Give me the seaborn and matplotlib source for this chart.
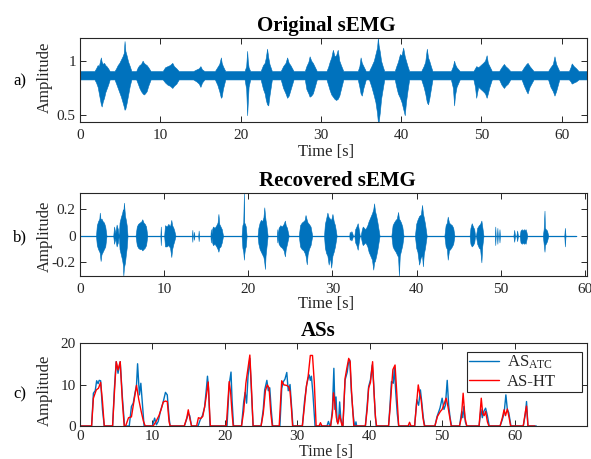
import matplotlib
matplotlib.use("Agg")
import matplotlib.pyplot as plt
import numpy as np
import pandas as pd
import seaborn as sns

# ---------------------------------------------------------------
# (a) Original sEMG: envelope of each burst (time [s], upper, lower)
# ---------------------------------------------------------------
orig_t = [
    [0.0],
    [1.8, 2.0, 2.2, 2.35, 2.5, 2.6, 2.7, 2.85, 3.0, 3.15, 3.3, 3.5, 3.7],
    [4.3, 4.5, 4.7, 4.9, 5.1, 5.3, 5.45, 5.55, 5.65, 5.8, 6.0, 6.2, 6.4],
    [7.0, 7.2, 7.4, 7.6, 7.8, 7.95, 8.1, 8.3, 8.5, 8.8],
    [10.3, 10.6, 10.9, 11.2, 11.5, 11.7, 12.0, 12.3],
    [14.1, 14.5, 14.8, 15.0, 15.2, 15.5],
    [16.8, 17.1, 17.35, 17.55, 17.65, 17.8, 18.1],
    [20.5, 20.7, 20.82, 20.9, 21.0, 21.2],
    [22.5, 22.8, 23.0, 23.15, 23.3, 23.45, 23.6, 23.9],
    [25.0, 25.3, 25.6, 25.8, 26.0, 26.2, 26.6],
    [28.0, 28.2, 28.45, 28.6, 28.8, 29.0, 29.2, 29.5],
    [30.7, 30.9, 31.1, 31.3, 31.5, 31.7, 31.9, 32.1, 32.3, 32.5, 32.8],
    [34.6, 34.8, 34.95, 35.1, 35.3, 35.6],
    [36.0, 36.3, 36.6, 36.8, 37.0, 37.1, 37.2, 37.35, 37.5, 37.7, 37.9],
    [39.2, 39.4, 39.6, 39.85, 40.05, 40.25, 40.45, 40.6, 40.8, 41.0],
    [42.5, 42.8, 43.0, 43.2, 43.35, 43.5, 43.7, 43.9],
    [46.2, 46.45, 46.6, 46.7, 46.9, 47.3],
    [49.0, 49.2, 49.35, 49.6, 49.9, 50.2, 50.45, 50.65, 50.8, 51.0, 51.3],
    [52.2, 52.5, 52.8, 53.0, 53.3, 53.6],
    [55.0, 55.3, 55.6, 55.75, 56.0, 56.5],
    [58.3, 58.6, 58.9, 59.1, 59.3, 59.7],
    [60.9, 61.1, 61.25, 61.5, 61.8, 62.1],
    [63.1],
]
orig_hi = [
    [0.905],
    [.905, .93, .96, .95, 1.00, 1.03, .99, .97, .98, .96, .95, .93, .905],
    [.905, .93, .96, .98, 1.01, 1.04, 1.07, 1.18, 1.09, 1.05, .99, .95, .905],
    [.905, .94, .96, .97, 1.00, .98, .97, .96, .94, .905],
    [.905, .94, .95, .96, .98, .95, .93, .905],
    [.905, .92, .93, .95, .92, .905],
    [.905, .94, .97, 1.03, .98, .95, .905],
    [.905, .95, 1.09, 1.0, .94, .905],
    [.905, .96, .98, 1.03, 1.11, 1.03, .97, .905],
    [.905, .95, .98, 1.03, .98, .96, .905],
    [.905, .95, .99, 1.04, 1.0, .98, .95, .905],
    [.905, .94, .99, 1.03, 1.10, 1.04, 1.05, 1.10, 1.0, .96, .905],
    [.905, .95, 1.03, .98, .95, .905],
    [.905, .95, 1.0, 1.06, 1.12, 1.21, 1.14, 1.08, 1.0, .95, .905],
    [.905, .95, .99, 1.06, 1.05, 1.12, 1.04, 1.0, .95, .905],
    [.905, .95, .99, 1.11, 1.03, 1.0, .95, .905],
    [.905, .95, 1.0, .97, .94, .905],
    [.905, .93, .95, .94, .96, .98, 1.0, 1.05, .98, .95, .905],
    [.905, .94, .97, .95, .93, .905],
    [.905, .94, .97, .98, .95, .905],
    [.905, .94, .97, 1.04, .97, .905],
    [.905, .94, .975, .95, .93, .905],
    [0.905],
]
orig_lo = [
    [0.828],
    [.828, .80, .76, .70, .64, .60, .58, .63, .66, .71, .74, .78, .828],
    [.828, .79, .75, .71, .67, .62, .58, .55, .56, .61, .69, .77, .828],
    [.828, .79, .75, .72, .70, .69, .70, .72, .77, .828],
    [.828, .80, .78, .77, .75, .77, .79, .828],
    [.828, .81, .79, .76, .80, .828],
    [.828, .78, .72, .66, .67, .74, .828],
    [.828, .74, .50, .62, .76, .828],
    [.828, .74, .70, .64, .60, .59, .68, .828],
    [.828, .75, .70, .66, .68, .73, .828],
    [.828, .74, .70, .67, .68, .70, .75, .828],
    [.828, .78, .73, .69, .67, .65, .64, .65, .68, .74, .828],
    [.828, .76, .70, .68, .75, .828],
    [.828, .76, .68, .62, .52, .44, .44, .53, .65, .74, .828],
    [.828, .76, .70, .66, .62, .56, .50, .62, .73, .828],
    [.828, .76, .70, .62, .60, .65, .74, .828],
    [.828, .75, .59, .68, .76, .828],
    [.828, .76, .66, .76, .74, .72, .70, .66, .70, .76, .828],
    [.828, .78, .75, .77, .79, .828],
    [.828, .77, .72, .70, .76, .828],
    [.828, .76, .72, .68, .72, .828],
    [.828, .81, .79, .80, .81, .828],
    [0.828],
]

# ---------------------------------------------------------------
# (b) Recovered sEMG: envelope of each burst (time [s], upper, lower)
# ---------------------------------------------------------------
recov_t = [
    [0.0],
    [1.9, 2.0, 2.15, 2.3, 2.35, 2.45, 2.55, 2.7, 2.85, 3.0, 3.15],
    [3.95, 4.05, 4.2, 4.35, 4.5, 4.6],
    [4.62, 4.7, 4.85, 5.0, 5.1, 5.15, 5.22, 5.35, 5.45, 5.55, 5.65],
    [6.6, 6.75, 6.9, 7.1, 7.3, 7.4, 7.55, 7.7, 7.85, 8.0],
    [9.55, 9.6, 9.65],
    [10.0, 10.1, 10.3, 10.5, 10.7, 10.85, 10.95, 11.1, 11.2, 11.35],
    [13.3, 13.35, 13.4, 13.5, 13.55, 13.6, 14.05, 14.1, 14.15],
    [15.5, 15.55, 15.6, 15.7, 15.8, 16.0, 16.2, 16.35, 16.45, 16.55, 16.7, 16.85, 17.0],
    [19.2, 19.3, 19.4, 19.48, 19.52, 19.6, 19.7, 19.8],
    [21.1, 21.2, 21.35, 21.5, 21.65, 21.8, 21.9, 21.98, 22.05, 22.15, 22.3],
    [23.4, 23.45, 23.5, 23.6, 23.8, 24.0, 24.2, 24.35, 24.45, 24.6, 24.8],
    [26.0, 26.15, 26.35, 26.55, 26.7, 26.8, 26.95, 27.05, 27.2, 27.4, 27.6],
    [29.0, 29.1, 29.25, 29.4, 29.55, 29.7, 29.85, 30.0, 30.15, 30.3, 30.5],
    [32.0, 32.05, 32.15, 32.25, 32.35, 32.45],
    [32.6, 32.7, 32.85, 33.0, 33.1, 33.25, 33.35, 33.5, 33.6, 33.75, 33.9],
    [34.0, 34.15, 34.3, 34.5, 34.7, 34.85, 34.95, 35.05, 35.2, 35.35, 35.6],
    [37.0, 37.15, 37.3, 37.5, 37.65, 37.8, 37.9, 38.0, 38.15, 38.3, 38.45],
    [39.8, 39.95, 40.1, 40.3, 40.5, 40.65, 40.75, 40.85, 41.0, 41.2],
    [43.3, 43.45, 43.6, 43.7, 43.85, 44.0, 44.2, 44.35, 44.5],
    [46.3, 46.4, 46.55, 46.7, 46.85, 46.95, 47.05, 47.2, 47.4, 47.55, 47.7, 47.8, 47.95],
    [49.3, 49.35, 49.4, 49.55, 49.6, 49.65, 49.8, 49.85, 49.9],
    [51.5, 51.6, 51.7, 51.85, 51.95, 52.05, 52.25, 52.35, 52.5, 52.6, 52.75, 52.85, 52.95, 53.05, 53.15],
    [55.0, 55.1, 55.2, 55.25, 55.35, 55.5, 55.65],
    [57.55, 57.62, 57.7],
    [59.0],
]
recov_hi = [
    [0],
    [0, .08, .11, .13, .175, .12, .13, .11, .10, .07, 0],
    [0, .07, .02, .085, .05, 0],
    [0, .10, .14, .17, .20, .18, .25, .15, .12, .08, 0],
    [0, .07, .09, .10, .11, .125, .10, .09, .07, 0],
    [0, .07, 0],
    [0, .08, .07, .09, .07, .12, .08, .06, .04, 0],
    [0, .045, 0, 0, .03, 0, 0, .04, 0],
    [0, .05, 0, .05, .07, .06, .08, .10, .165, .09, .07, .05, 0],
    [0, .08, .10, .33, .10, .09, .07, 0],
    [0, .06, .10, .12, .11, .14, .215, .16, .12, .08, 0],
    [0, .05, 0, .06, .08, .07, .09, .115, .08, .06, 0],
    [0, .08, .10, .11, .12, .157, .12, .10, .09, .07, 0],
    [0, .09, .13, .175, .14, .13, .12, .165, .11, .08, 0],
    [0, .03, .02, .035, .02, 0],
    [0, .05, .07, .095, .06, 0, 0, .05, .07, .06, .05],
    [.06, .08, .11, .14, .17, .20, .245, .19, .15, .10, 0],
    [0, .08, .10, .12, .13, .18, .13, .12, .10, .07, 0],
    [0, .09, .12, .15, .16, .233, .17, .14, .09, 0],
    [0, .08, .10, .145, .10, .09, .08, .06, 0],
    [0, .06, .095, .07, .05, 0, 0, .06, .08, .09, .115, .07, 0],
    [0, .07, 0, 0, .06, 0, 0, .05, 0],
    [0, .045, 0, 0, .04, 0, 0, .04, .05, .04, .05, .04, .05, .03, 0],
    [0, .05, .19, .06, .05, .04, 0],
    [0, .06, 0],
    [0],
]
recov_lo = [
    [0],
    [0, -.07, -.10, -.12, -.13, -.19, -.14, -.12, -.10, -.08, 0],
    [0, -.06, -.02, -.08, -.05, 0],
    [0, -.10, -.14, -.18, -.22, -.30, -.24, -.20, -.14, -.09, 0],
    [0, -.07, -.09, -.10, -.10, -.11, -.10, -.09, -.07, 0],
    [0, -.07, 0],
    [0, -.08, -.08, -.07, -.09, -.16, -.10, -.06, -.04, 0],
    [0, -.045, 0, 0, -.03, 0, 0, -.04, 0],
    [0, -.05, 0, -.05, -.07, -.06, -.08, -.10, -.12, -.09, -.08, -.05, 0],
    [0, -.09, -.12, -.18, -.14, -.10, -.08, 0],
    [0, -.06, -.10, -.12, -.14, -.16, -.20, -.25, -.15, -.09, 0],
    [0, -.05, 0, -.06, -.08, -.09, -.11, -.155, -.10, -.06, 0],
    [0, -.08, -.10, -.11, -.13, -.15, -.215, -.14, -.10, -.07, 0],
    [0, -.09, -.13, -.15, -.217, -.16, -.24, -.15, -.12, -.08, 0],
    [0, -.03, -.02, -.035, -.02, 0],
    [0, -.05, -.07, -.105, -.06, 0, 0, -.05, -.07, -.06, -.05],
    [-.06, -.08, -.12, -.15, -.18, -.255, -.20, -.19, -.15, -.10, 0],
    [0, -.08, -.10, -.12, -.14, -.16, -.30, -.15, -.11, -.07, 0],
    [0, -.09, -.12, -.217, -.16, -.15, -.23, -.14, -.09, 0],
    [0, -.08, -.10, -.18, -.11, -.10, -.08, -.06, 0],
    [0, -.06, -.08, -.07, -.05, 0, 0, -.06, -.09, -.10, -.20, -.08, 0],
    [0, -.07, 0, 0, -.06, 0, 0, -.05, 0],
    [0, -.045, 0, 0, -.04, 0, 0, -.05, -.06, -.05, -.06, -.05, -.06, -.03, 0],
    [0, -.06, -.12, -.07, -.06, -.04, 0],
    [0, -.08, 0],
    [0],
]

# ---------------------------------------------------------------
# (c) Activation signals: AS_ATC and AS-HT (time [s], amplitude)
# ---------------------------------------------------------------
atc_t = [
    [0.0],
    [1.6, 1.85, 2.1, 2.3, 2.5, 2.65, 2.85, 3.1, 3.35],
    [4.5, 4.75, 5.0, 5.25, 5.55, 5.85, 6.15],
    [6.8, 7.1, 7.35, 7.6, 7.8, 7.95, 8.2, 8.4, 8.65, 8.85],
    [10.0, 10.3, 10.55, 10.8, 11.1, 11.5, 11.8, 12.05, 12.3, 12.45],
    [14.4, 14.7, 14.95, 15.15, 15.4],
    [16.3, 16.6, 16.9, 17.2, 17.45, 17.6, 17.75, 17.95],
    [20.3, 20.6, 20.85, 21.0, 21.2],
    [22.3, 22.6, 22.8, 23.0, 23.2, 23.45, 23.65, 23.9],
    [25.0, 25.3, 25.5, 25.8, 26.0, 26.2, 26.4, 26.6],
    [27.6, 27.85, 28.05, 28.3, 28.55, 28.75, 29.0, 29.2, 29.4],
    [30.7, 31.0, 31.3, 31.5, 31.65, 31.8, 31.95, 32.15, 32.45],
    [34.1, 34.3, 34.5],
    [34.6, 34.85, 35.05, 35.2, 35.35, 35.5, 35.7, 35.85, 36.0, 36.2],
    [36.3, 36.6, 36.9, 37.05, 37.25, 37.45, 37.7, 37.9],
    [38.0, 38.1, 38.2],
    [39.4, 39.65, 39.85, 40.1, 40.35, 40.55, 40.75, 40.9],
    [42.6, 42.8, 43.0, 43.25, 43.4, 43.6, 43.8, 44.0],
    [46.2, 46.5, 46.75, 47.0, 47.2, 47.4, 47.6],
    [49.0, 49.3, 49.7, 50.0, 50.25, 50.45, 50.7, 50.9, 51.1, 51.3],
    [52.4, 52.7, 52.85, 53.0, 53.2, 53.4],
    [55.1, 55.35, 55.55, 55.75, 56.0, 56.25, 56.5],
    [58.0, 58.3, 58.55, 58.8, 59.0, 59.2, 59.4, 59.5],
    [61.2, 61.5, 61.65, 61.85],
    [63.0],
]
atc_v = [
    [0],
    [0, 7.9, 8.5, 10.9, 10.2, 11, 10.9, 4, 0],
    [0, 9.1, 15.5, 12.7, 15.5, 7, 0],
    [0, 4.7, 5.5, 8, 9.8, 15, 7.5, 10.3, 4.5, 0],
    [0, 1.9, 0.3, 1.1, 3.5, 5.9, 8.1, 7.5, 2, 0],
    [0, 1.5, 3.0, 2.5, 0],
    [0, 1.5, 2.5, 4.5, 9, 12, 9, 0],
    [0, 10, 13, 6, 0],
    [0, 5.8, 8.1, 5.5, 12, 16.3, 9, 0],
    [0, 4, 8.7, 11, 8.5, 9.2, 4, 0],
    [0, 9, 10.6, 11.3, 12.9, 8.5, 10, 5, 0],
    [0, 6, 10, 11.5, 12.3, 11, 12, 8, 0],
    [0, 1.1, 0],
    [0, 4, 13.9, 4, 7, 1, 1, 5.8, 2, 0],
    [0, 11.1, 13, 15.1, 15.9, 8.7, 3, 0],
    [0, 1, 0],
    [0, 5, 9.5, 11.1, 14.7, 10, 3, 0],
    [0, 5, 10.7, 10.3, 13.9, 8, 3, 0],
    [0, 6.3, 5, 8.7, 5.5, 2, 0],
    [0, 2.3, 4.3, 6.7, 4, 5, 11, 5, 2, 0],
    [0, 3.5, 2, 4.7, 1, 0],
    [0, 4, 2, 3.5, 4.3, 2.5, 0],
    [0, 1.5, 3, 7.5, 4, 3.2, 1, 0],
    [0, 3, 5.9, 0],
    [0],
]
ht_t = [
    [0.0],
    [1.6, 1.85, 2.25, 2.55, 2.85, 3.1, 3.35],
    [4.5, 4.75, 5.0, 5.25, 5.55, 5.85, 6.1],
    [6.3, 6.7, 7.1, 7.45, 7.8, 8.1, 8.45, 8.75, 9.0],
    [10.1, 10.5, 10.9, 11.2, 11.5, 11.8, 12.05, 12.3, 12.45],
    [14.4, 14.75, 14.95, 15.2, 15.4],
    [16.1, 16.35, 16.65, 16.95, 17.25, 17.5, 17.7, 17.85, 18.0],
    [20.2, 20.6, 20.8, 21.0, 21.15],
    [22.3, 22.6, 22.9, 23.2, 23.45, 23.65, 23.9],
    [25.0, 25.3, 25.6, 25.85, 26.1, 26.35, 26.55],
    [27.5, 27.85, 28.15, 28.5, 28.8, 29.0, 29.2, 29.35],
    [30.7, 31.0, 31.25, 31.5, 31.8, 32.1, 32.35, 32.6],
    [33.0, 33.2, 33.4],
    [34.6, 34.85, 35.0, 35.2, 35.4, 35.6, 35.85, 36.05, 36.2],
    [36.3, 36.6, 36.85, 37.1, 37.3, 37.5, 37.8],
    [39.4, 39.65, 39.85, 40.1, 40.4, 40.6, 40.8, 40.95],
    [42.6, 42.8, 43.0, 43.2, 43.5, 43.7, 44.0],
    [45.3, 45.5, 45.7],
    [46.2, 46.45, 46.7, 46.9, 47.1, 47.35, 47.55],
    [49.0, 49.35, 49.75, 50.0, 50.3, 50.55, 50.8, 51.05, 51.25],
    [52.4, 52.65, 52.9, 53.15, 53.4],
    [55.1, 55.4, 55.6, 55.8, 56.0, 56.25, 56.45],
    [58.0, 58.3, 58.55, 58.75, 59.0, 59.25, 59.45],
    [61.2, 61.5, 61.65, 61.85],
    [62.8],
]
ht_v = [
    [0],
    [0, 6.7, 8.7, 9.1, 10.5, 6, 0],
    [0, 8, 15.5, 13.5, 15.5, 6, 0],
    [0, 2, 2.2, 6, 9.8, 6.5, 3.5, 1.2, 0],
    [0, 1.1, 2.5, 4, 5.8, 6.0, 5.9, 1, 0],
    [0, 2, 3.9, 1.5, 0],
    [0, 2, 1.8, 2.3, 5, 8, 10.6, 5, 0],
    [0, 10.7, 8, 3, 0],
    [0, 3.5, 10.3, 14, 17.1, 10, 0],
    [0, 3, 8.5, 9.9, 9.2, 3, 0],
    [0, 10.9, 9.9, 9.8, 9.5, 8.3, 4, 0],
    [0, 5, 9.5, 12, 17, 17, 10.5, 0],
    [0, 0.8, 0],
    [0, 3, 8, 5.4, 2, 0.5, 2.7, 1, 0],
    [0, 11.5, 14, 16.3, 15.5, 8, 0],
    [0, 4, 9.1, 10.5, 15.5, 7.9, 2, 0],
    [0, 4, 9, 13.6, 14.7, 9, 0],
    [0, 0.9, 0],
    [0, 5, 9.9, 7.9, 6.3, 2, 0],
    [0, 2.3, 3.5, 4, 5.5, 6.7, 4.7, 2, 0],
    [0, 2, 7.9, 2, 0],
    [0, 6.7, 3, 2.5, 3.5, 1, 0],
    [0, 1.9, 3.9, 2.5, 4.1, 2, 0],
    [0, 3.5, 4.8, 0],
    [0],
]

legend_labels = [r"AS$_{\mathrm{ATC}}$", "AS-HT"]
x_ticks = [0, 10, 20, 30, 40, 50, 60]


def flat(groups):
    return np.array([v for g in groups for v in g], dtype=float)


BLUE = "#0072BD"
RED = "#FF0000"
AXC = "#262626"

sns.set_style("ticks")
plt.rcParams["font.family"] = ["Liberation Serif", "DejaVu Serif"]
plt.rcParams["mathtext.fontset"] = "custom"
plt.rcParams["mathtext.rm"] = "Liberation Serif"
plt.rcParams["mathtext.it"] = "Liberation Serif:italic"
plt.rcParams["mathtext.bf"] = "Liberation Serif:bold"
plt.rcParams["axes.unicode_minus"] = False

W_PX, H_PX = 591, 459
fig = plt.figure(figsize=(W_PX / 100, H_PX / 100), dpi=100)


def add_axes(top, bottom, left=80, right=587):
    return fig.add_axes([left / W_PX, 1 - bottom / H_PX,
                         (right - left) / W_PX, (bottom - top) / H_PX])


axA = add_axes(38, 122)
axB = add_axes(193, 276)
axC = add_axes(343, 426)


def style(ax, xlim, ylim, yticks, ylabels, title, title_x, tag, tag_y,
          ylab_y, xlab_off, xpad=5, xlab_size=12):
    ax.set_xlim(*xlim)
    ax.set_ylim(*ylim)
    ax.set_xticks(x_ticks)
    ax.set_xticklabels([str(v) for v in x_ticks])
    ax.set_yticks(yticks)
    ax.set_yticklabels(ylabels)
    ax.tick_params(direction="in", top=True, right=True, length=4, width=0.7,
                   color=AXC, labelcolor=AXC, labelsize=11)
    ax.tick_params(axis="x", pad=xpad)
    ax.tick_params(axis="y", pad=3)
    for s in ax.spines.values():
        s.set_visible(True)
        s.set_color(AXC)
        s.set_linewidth(0.8)
    ax.set_xlabel("")
    ax.set_ylabel("Amplitude", fontsize=12, color=AXC)
    ax.yaxis.set_label_coords(-0.053, ylab_y)
    ax.annotate("Time [s]", xy=(0.485, 0), xycoords="axes fraction",
                xytext=(0, -xlab_off * 0.72), textcoords="offset points",
                ha="center", va="baseline", fontsize=xlab_size, color=AXC)
    ax.annotate(title, xy=(title_x, 1), xycoords="axes fraction",
                xytext=(0, 4.7), textcoords="offset points",
                ha="center", va="baseline", fontsize=15, fontweight="bold",
                color="black")
    fig.text(13 / W_PX, 1 - tag_y / H_PX, tag, ha="left", va="center",
             fontsize=12, color="black")


# (a) original signal
ta, hia, loa = flat(orig_t), flat(orig_hi), flat(orig_lo)
axA.fill_between(ta, loa, hia, color=BLUE, lw=0.4, edgecolor=BLUE)
style(axA, (0, 63.15), (0.438, 1.208), [0.5, 1], ["0.5", "1"],
      "Original sEMG", 0.485, "a)", 81.5, 0.527, 34)

# (b) recovered signal
tb, hib, lob = flat(recov_t), flat(recov_hi), flat(recov_lo)
sns.lineplot(x=tb, y=np.zeros_like(tb), ax=axB, color=BLUE, lw=0.9,
             estimator=None, sort=False)
axB.fill_between(tb, lob, hib, color=BLUE, lw=0.4, edgecolor=BLUE)
style(axB, (0, 60.25), (-0.303, 0.323), [-0.2, 0, 0.2], ["-0.2", "0", "0.2"],
      "Recovered sEMG", 0.507, "b)", 237, 0.484, 32)

# (c) activation signals
df = pd.concat([
    pd.DataFrame({"t": flat(atc_t), "amp": flat(atc_v), "series": "ATC"}),
    pd.DataFrame({"t": flat(ht_t), "amp": flat(ht_v), "series": "HT"}),
], ignore_index=True)
sns.lineplot(data=df, x="t", y="amp", hue="series",
             palette={"ATC": BLUE, "HT": RED}, estimator=None, sort=False,
             lw=1.0, legend=False, ax=axC)
style(axC, (0, 70), (0, 20), [0, 10, 20], ["0", "10", "20"],
      "ASs", 0.47, "c)", 394, 0.434, 29.5, xpad=3.2, xlab_size=11.5)
leg = axC.legend(axC.get_lines()[:2], legend_labels, loc="upper left",
                 bbox_to_anchor=(0.763, 0.892, 0.227, 0.0), mode="expand",
                 borderaxespad=0, frameon=True, fancybox=False,
                 edgecolor=AXC, framealpha=1, fontsize=12,
                 handlelength=1.8, handletextpad=0.5,
                 labelspacing=0.15, borderpad=0.12)
leg.get_frame().set_linewidth(0.8)

fig.savefig("out.png", dpi=100)
